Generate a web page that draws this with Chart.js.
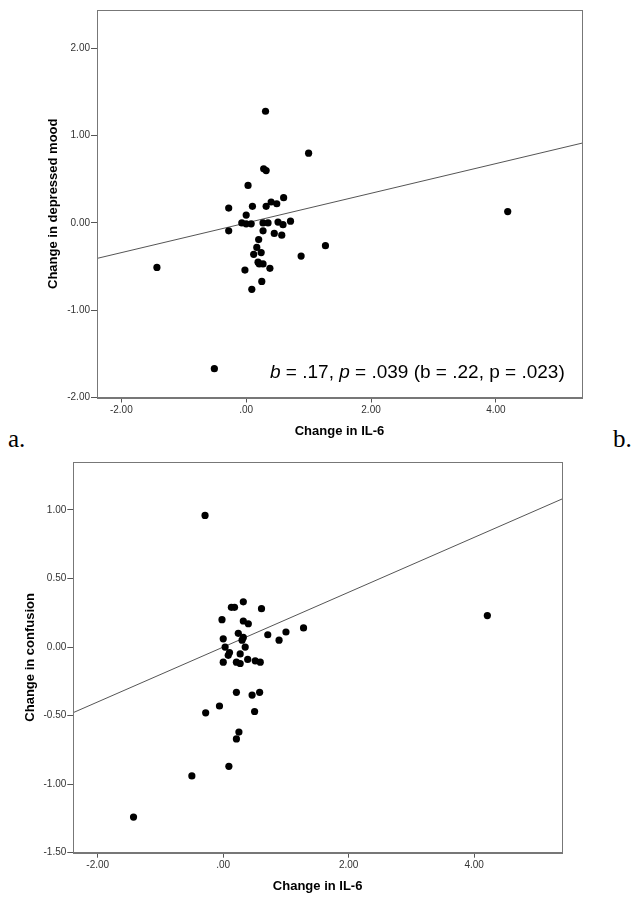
<!DOCTYPE html>
<html>
<head>
<meta charset="UTF-8">
<title>Change in IL-6 scatter plots</title>
<script src="https://cdn.jsdelivr.net/npm/chart.js"></script>
<style>
    body {
        margin: 0;
        background: #fff;
        width: 639px;
        height: 903px;
        position: relative;
        overflow: hidden;
    }
    canvas {
        position: absolute;
        left: 0;
    }
    #moodChart { top: 0; }
    #confChart { top: 455px; }
    .panel {
        position: absolute;
        top: 426px;
        font-family: "Liberation Serif", "Times New Roman", serif;
        font-size: 25px;
        line-height: 1;
        color: #000;
    }
</style>
</head>
<body>
<div class="panel" style="left: 8px">a.</div>
<div class="panel" style="left: 613px">b.</div>
<canvas id="moodChart" width="639" height="445"></canvas>
<canvas id="confChart" width="639" height="448"></canvas>

<script>
    // panel a: change in IL-6 vs change in depressed mood
    const moodX = [0.31, 1.00, 0.28, 0.32, 0.03, -0.28, 0.10, 0.32, 0.40, 0.49,
        0.60, 0.00, -0.07, 0.00, 0.08, 0.27, 0.35, 0.51, 0.59, 0.71,
        -0.28, 0.27, 0.45, 0.57, 0.20, 0.17, 0.12, 0.24, 0.19, 0.21,
        0.27, 0.38, -0.02, 0.25, 0.09, 0.88, 1.27, -1.43, -0.51, 4.19];
    const moodY = [1.28, 0.80, 0.62, 0.60, 0.43, 0.17, 0.19, 0.19, 0.24, 0.22,
        0.29, 0.09, 0.00, -0.01, -0.01, 0.00, 0.00, 0.01, -0.02, 0.02,
        -0.09, -0.09, -0.12, -0.14, -0.19, -0.28, -0.36, -0.34, -0.45, -0.47,
        -0.47, -0.52, -0.54, -0.67, -0.76, -0.38, -0.26, -0.51, -1.67, 0.13];

    // panel b: change in IL-6 vs change in confusion
    const confX = [0.32, 0.13, 0.18, 0.61, -0.02, 0.32, 0.40, 0.24, 0.32, 0.30,
        0.00, 0.71, 1.00, 1.28, 0.89, 0.03, 0.35, 0.10, 0.08, 0.27,
        0.00, 0.21, 0.27, 0.39, 0.51, 0.59, 0.21, 0.46, 0.58, -0.06,
        -0.28, 0.50, 0.25, 0.21, 0.09, -0.50, -0.29, -1.43, 4.21];
    const confY = [0.33, 0.29, 0.29, 0.28, 0.20, 0.19, 0.17, 0.10, 0.07, 0.05,
        0.06, 0.09, 0.11, 0.14, 0.05, 0.00, 0.00, -0.04, -0.06, -0.05,
        -0.11, -0.11, -0.12, -0.09, -0.10, -0.11, -0.33, -0.35, -0.33, -0.43,
        -0.48, -0.47, -0.62, -0.67, -0.87, -0.94, 0.96, -1.24, 0.23];

    // fitted lines (intercept, slope)
    const moodFit = [0.00, 0.17];
    const confFit = [0.00, 0.20];

    const xTickValues = [-2, 0, 2, 4];
    const xTickLabels = ["-2.00", ".00", "2.00", "4.00"];
    const moodTickValues = [-2, -1, 0, 1, 2];
    const moodTickLabels = ["-2.00", "-1.00", "0.00", "1.00", "2.00"];
    const confTickValues = [-1.5, -1, -0.5, 0, 0.5, 1];
    const confTickLabels = ["-1.50", "-1.00", "-0.50", "0.00", "0.50", "1.00"];

    const statsText = [["b", true], [" = .17, ", false], ["p", true], [" = .039 (b = .22, p = .023)", false]];

    const sans = '"Liberation Sans", Arial, sans-serif';

    const boxPlugin = {
        id: 'box',
        afterDraw(chart) {
            const a = chart.chartArea;
            const ctx = chart.ctx;
            ctx.save();
            ctx.strokeStyle = '#777';
            ctx.lineWidth = 1;
            ctx.strokeRect(Math.round(a.left) + 0.5, Math.round(a.top) + 0.5,
                Math.round(a.right - a.left), Math.round(a.bottom - a.top));
            ctx.restore();
        }
    };

    const statsPlugin = {
        id: 'stats',
        afterDraw(chart) {
            if (chart.canvas.id !== 'moodChart') return;
            const ctx = chart.ctx;
            ctx.save();
            ctx.fillStyle = '#000';
            ctx.textBaseline = 'alphabetic';
            let x = 270;
            statsText.forEach(([t, it]) => {
                ctx.font = (it ? 'italic ' : '') + '19px ' + sans;
                ctx.fillText(t, x, 377.5);
                x += ctx.measureText(t).width;
            });
            ctx.restore();
        }
    };

    function makeChart(id, cfg) {
        const fitLine = [cfg.xMin, cfg.xMax].map(v => ({x: v, y: cfg.fit[0] + cfg.fit[1] * v}));
        return new Chart(document.getElementById(id), {
            type: 'scatter',
            data: {
                datasets: [{
                    data: cfg.xs.map((v, i) => ({x: v, y: cfg.ys[i]})),
                    backgroundColor: '#000',
                    borderWidth: 0,
                    pointRadius: 3.6
                }, {
                    type: 'line',
                    data: fitLine,
                    borderColor: '#555',
                    borderWidth: 1,
                    pointRadius: 0,
                    fill: false
                }]
            },
            options: {
                responsive: false,
                animation: false,
                layout: {padding: cfg.padding},
                plugins: {legend: {display: false}, tooltip: {enabled: false}},
                scales: {
                    x: {
                        type: 'linear',
                        min: cfg.xMin,
                        max: cfg.xMax,
                        afterBuildTicks: s => { s.ticks = xTickValues.map(v => ({value: v})); },
                        afterFit: s => { s.height = cfg.xHeight; },
                        ticks: {
                            callback: (v, i) => xTickLabels[i],
                            font: {size: 10, family: sans},
                            color: '#333',
                            padding: 2,
                            maxRotation: 0,
                            autoSkip: false
                        },
                        grid: {drawOnChartArea: false, tickLength: 5, color: '#555'},
                        border: {color: '#777'},
                        title: {
                            display: true,
                            text: 'Change in IL-6',
                            font: {size: 13, weight: 'bold', family: sans},
                            color: '#000',
                            padding: {top: 0, bottom: cfg.xTitlePad}
                        }
                    },
                    y: {
                        type: 'linear',
                        min: cfg.yMin,
                        max: cfg.yMax,
                        afterBuildTicks: s => { s.ticks = cfg.yTicks.map(v => ({value: v})); },
                        afterFit: s => { s.width = cfg.yWidth; },
                        ticks: {
                            callback: (v, i) => cfg.yLabels[i],
                            font: {size: 10, family: sans},
                            color: '#333',
                            padding: 1,
                            autoSkip: false
                        },
                        grid: {drawOnChartArea: false, tickLength: 6, color: '#555'},
                        border: {color: '#777'},
                        title: {
                            display: true,
                            text: cfg.yTitle,
                            font: {size: 13, weight: 'bold', family: sans},
                            color: '#000',
                            padding: {top: cfg.yTitlePad, bottom: 0}
                        }
                    }
                }
            },
            plugins: [boxPlugin, statsPlugin]
        });
    }

    makeChart('moodChart', {
        xs: moodX, ys: moodY, fit: moodFit,
        xMin: -2.39, xMax: 5.38, yMin: -2, yMax: 2.44,
        yTicks: moodTickValues, yLabels: moodTickLabels,
        yTitle: 'Change in depressed mood',
        padding: {left: 0, right: 57, top: 10, bottom: 0},
        xHeight: 47.5, yWidth: 97,
        xTitlePad: 5.5, yTitlePad: 46
    });

    makeChart('confChart', {
        xs: confX, ys: confY, fit: confFit,
        xMin: -2.39, xMax: 5.40, yMin: -1.5, yMax: 1.35,
        yTicks: confTickValues, yLabels: confTickLabels,
        yTitle: 'Change in confusion',
        padding: {left: 0, right: 77, top: 6.7, bottom: 0},
        xHeight: 50.3, yWidth: 73.3,
        xTitlePad: 9.2, yTitlePad: 23
    });
</script>
</body>
</html>
